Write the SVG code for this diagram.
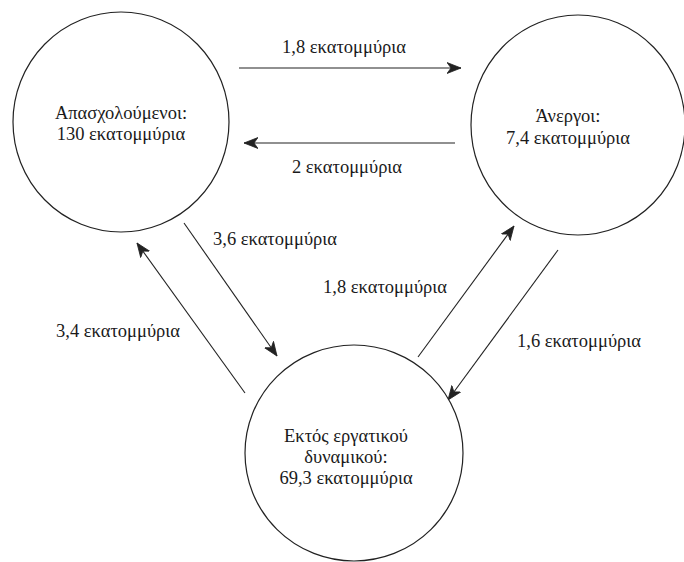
<svg xmlns="http://www.w3.org/2000/svg" width="684" height="562" viewBox="0 0 684 562">
<defs>
<style>
.node ellipse{fill:#fff;stroke:#222;stroke-width:1.2}
text{font-family:"Liberation Serif","Times New Roman","DejaVu Serif",serif;font-size:18.5px;fill:#1a1a1a}
.c{text-anchor:middle}
.e{text-anchor:end}
.edge{stroke:#222;stroke-width:1.1;fill:none;marker-end:url(#ah)}
</style>
<marker id="ah" markerWidth="16" markerHeight="12" refX="14" refY="6" orient="auto" markerUnits="userSpaceOnUse">
<path d="M0,0.5 L14,6 L0,11.5 L4,6 Z" fill="#222" stroke="#222" stroke-width="0.8" stroke-linejoin="round"/>
</marker>
</defs>
<rect width="684" height="562" fill="#fff"/>
<g id="connectors">
<line class="edge" x1="239" y1="68" x2="461" y2="68"/>
<line class="edge" x1="455" y1="143" x2="244" y2="143"/>
<line class="edge" x1="184" y1="223" x2="277" y2="356"/>
<line class="edge" x1="245" y1="393" x2="137" y2="243"/>
<line class="edge" x1="418" y1="357" x2="514" y2="226"/>
<line class="edge" x1="558" y1="250" x2="448" y2="400"/>
</g>
<g id="edge-labels">
<text class="c" x="344" y="53">1,8 εκατομμύρια</text>
<text class="c" x="347" y="173">2 εκατομμύρια</text>
<text x="213" y="245">3,6 εκατομμύρια</text>
<text class="e" x="447" y="293">1,8 εκατομμύρια</text>
<text class="e" x="180" y="337">3,4 εκατομμύρια</text>
<text x="517" y="347">1,6 εκατομμύρια</text>
</g>
<g id="employed" class="node">
<ellipse cx="121" cy="122" rx="108" ry="110"/>
<text class="c" x="121" y="119">Απασχολούμενοι:</text>
<text class="c" x="121" y="140">130 εκατομμύρια</text>
</g>
<g id="unemployed" class="node">
<ellipse cx="578" cy="125" rx="107" ry="110"/>
<text class="c" x="568" y="122">Άνεργοι:</text>
<text class="c" x="568" y="144">7,4 εκατομμύρια</text>
</g>
<g id="not-in-labor-force" class="node">
<ellipse cx="354" cy="453" rx="109" ry="108"/>
<text class="c" x="346" y="442">Εκτός εργατικού</text>
<text class="c" x="346" y="463">δυναμικού:</text>
<text class="c" x="346" y="484">69,3 εκατομμύρια</text>
</g>
</svg>
